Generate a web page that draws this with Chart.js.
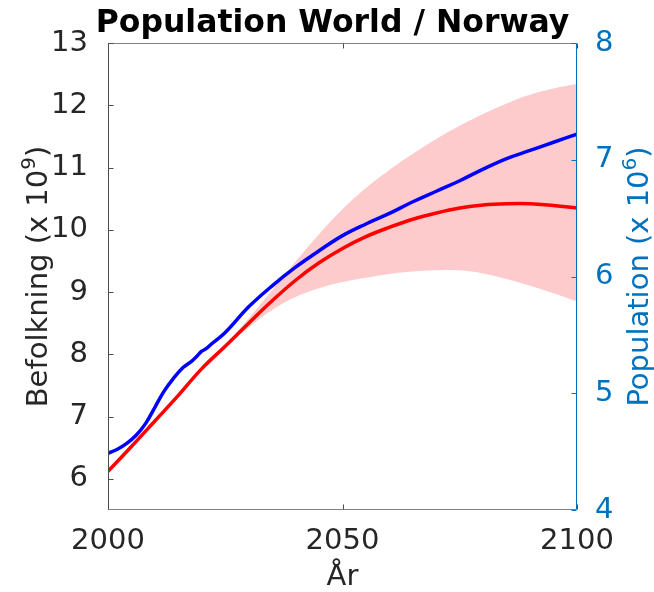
<!DOCTYPE html>
<html>
<head>
<meta charset="utf-8">
<script src="https://cdn.jsdelivr.net/npm/chart.js@4.4.1/dist/chart.umd.min.js"></script>
<style>
  html, body { margin: 0; padding: 0; background: #ffffff; }
  #ramme { width: 654px; height: 592px; }
</style>
</head>
<body>
<div id="ramme"><canvas id="grafikk"></canvas></div>
<script>
// verdens befolkning (milliarder), venstre akse
const aarVerden = [2000, 2005, 2010, 2015, 2020, 2025, 2030, 2035, 2040, 2045, 2050,
                   2055, 2060, 2065, 2070, 2075, 2080, 2085, 2090, 2095, 2100];
const verden = [6.12, 6.52, 6.93, 7.34, 7.77, 8.13, 8.50, 8.86, 9.19, 9.47, 9.70,
                9.89, 10.04, 10.17, 10.27, 10.35, 10.40, 10.42, 10.42, 10.39, 10.35];

// usikkerhetsbånd for verden
const aarBand = [2025, 2030, 2035, 2040, 2045, 2050, 2055, 2060, 2065, 2070,
                 2075, 2080, 2085, 2090, 2095, 2100];
const bandLav = [8.12, 8.43, 8.71, 8.92, 9.06, 9.16, 9.23, 9.29, 9.33, 9.35,
                 9.35, 9.30, 9.21, 9.10, 8.98, 8.85];
const bandHoy = [8.14, 8.58, 9.03, 9.49, 9.93, 10.33, 10.67, 10.96, 11.22, 11.46,
                 11.67, 11.86, 12.03, 12.17, 12.27, 12.34];

// Norges befolkning (millioner), høyre akse
const aarNorge = [2000, 2002, 2004, 2006, 2008, 2010, 2012, 2014, 2016, 2018,
                  2019, 2020, 2021, 2022, 2025, 2030, 2035, 2040, 2045, 2050,
                  2055, 2060, 2065, 2070, 2075, 2080, 2085, 2090, 2095, 2100];
const norge = [4.485, 4.52, 4.57, 4.64, 4.74, 4.88, 5.02, 5.13, 5.22, 5.28,
               5.32, 5.36, 5.385, 5.42, 5.52, 5.74, 5.92, 6.08, 6.22, 6.35,
               6.45, 6.54, 6.64, 6.73, 6.82, 6.92, 7.01, 7.08, 7.15, 7.22];

const xTicks = [2000, 2050, 2100];
const venstreTicks = [6, 7, 8, 9, 10, 11, 12, 13];
const hoyreTicks = [4, 5, 6, 7, 8];

const tekstFarge = '#262626';
const blaaAkse = '#0072BD';
const skrift = '"DejaVu Sans", sans-serif';

function punkter(xs, ys) {
    return xs.map((x, i) => ({ x: x, y: ys[i] }));
}

// rotert aksetittel med hevet eksponent
function aksetittel(ctx, x, y, hoved, sup, slutt, farge) {
    ctx.save();
    ctx.translate(x, y);
    ctx.rotate(-Math.PI / 2);
    ctx.fillStyle = farge;
    ctx.textAlign = 'left';
    ctx.textBaseline = 'alphabetic';
    ctx.font = '29px ' + skrift;
    const w1 = ctx.measureText(hoved).width;
    const w3 = ctx.measureText(slutt).width;
    ctx.font = '20px ' + skrift;
    const w2 = ctx.measureText(sup).width;
    let start = -(w1 + w2 + w3) / 2;
    ctx.font = '29px ' + skrift;
    ctx.fillText(hoved, start, 0);
    ctx.font = '20px ' + skrift;
    ctx.fillText(sup, start + w1, -12);
    ctx.font = '29px ' + skrift;
    ctx.fillText(slutt, start + w1 + w2, 0);
    ctx.restore();
}

const matlabPynt = {
    id: 'matlabPynt',
    afterDraw(chart) {
        const { ctx, chartArea: a, scales } = chart;
        const l = Math.round(a.left) + 0.5, r = Math.round(a.right) - 0.5;
        const t = Math.round(a.top) + 0.5, b = Math.round(a.bottom) - 0.5;
        ctx.save();
        ctx.lineWidth = 1;

        // ramme
        ctx.strokeStyle = '#808080';
        ctx.beginPath();
        ctx.moveTo(l, t); ctx.lineTo(r, t);
        ctx.moveTo(l, b); ctx.lineTo(r, b);
        ctx.stroke();
        ctx.strokeStyle = '#4d4d4d';
        ctx.beginPath();
        ctx.moveTo(l, t); ctx.lineTo(l, b);
        ctx.stroke();
        ctx.strokeStyle = blaaAkse;
        ctx.beginPath();
        ctx.moveTo(r, t); ctx.lineTo(r, b);
        ctx.stroke();

        // tick-merker innover
        ctx.strokeStyle = '#4d4d4d';
        ctx.beginPath();
        venstreTicks.forEach(v => {
            const y = Math.round(scales.y.getPixelForValue(v)) + 0.5;
            ctx.moveTo(l, y); ctx.lineTo(l + 5, y);
        });
        xTicks.forEach(v => {
            const x = Math.round(scales.x.getPixelForValue(v)) + 0.5;
            ctx.moveTo(x, b); ctx.lineTo(x, b - 5);
            ctx.moveTo(x, t); ctx.lineTo(x, t + 5);
        });
        ctx.stroke();
        ctx.strokeStyle = blaaAkse;
        ctx.beginPath();
        hoyreTicks.forEach(v => {
            const y = Math.round(scales.y1.getPixelForValue(v)) + 0.5;
            ctx.moveTo(r, y); ctx.lineTo(r - 5, y);
        });
        ctx.stroke();

        // tittel
        const midtX = (a.left + a.right) / 2;
        const midtY = (a.top + a.bottom) / 2;
        ctx.fillStyle = '#000000';
        ctx.textAlign = 'center';
        ctx.textBaseline = 'alphabetic';
        ctx.font = 'bold 31.5px ' + skrift;
        ctx.fillText('Population World / Norway', midtX - 10, 32);

        // x-aksetittel
        ctx.fillStyle = tekstFarge;
        ctx.font = '29px ' + skrift;
        ctx.fillText('År', midtX, 585);

        aksetittel(ctx, 47, midtY, 'Befolkning (x 10', '9', ')', tekstFarge);
        aksetittel(ctx, 648, midtY, 'Population (x 10', '6', ')', blaaAkse);
        ctx.restore();
    }
};

document.addEventListener('DOMContentLoaded', () => {
    try {
        const ctx = document.getElementById('grafikk').getContext('2d');
        const tickFont = { family: skrift, size: 29 };

        new Chart(ctx, {
            type: 'line',
            data: {
                datasets: [
                    {
                        label: 'bånd lav',
                        data: punkter(aarBand, bandLav),
                        yAxisID: 'y',
                        borderWidth: 0,
                        borderColor: 'rgba(0,0,0,0)',
                        pointRadius: 0,
                        fill: false,
                        tension: 0.4,
                        order: 3
                    },
                    {
                        label: 'bånd høy',
                        data: punkter(aarBand, bandHoy),
                        yAxisID: 'y',
                        borderWidth: 0,
                        borderColor: 'rgba(0,0,0,0)',
                        backgroundColor: '#fdcbcb',
                        pointRadius: 0,
                        fill: '-1',
                        tension: 0.4,
                        order: 2
                    },
                    {
                        label: 'Verden',
                        data: punkter(aarVerden, verden),
                        yAxisID: 'y',
                        borderColor: '#ff0000',
                        borderWidth: 3.5,
                        pointRadius: 0,
                        fill: false,
                        tension: 0.4,
                        order: 1
                    },
                    {
                        label: 'Norge',
                        data: punkter(aarNorge, norge),
                        yAxisID: 'y1',
                        borderColor: '#0000ff',
                        borderWidth: 3.5,
                        pointRadius: 0,
                        fill: false,
                        tension: 0.4,
                        order: 0
                    }
                ]
            },
            options: {
                responsive: true,
                maintainAspectRatio: false,
                animation: false,
                devicePixelRatio: 1,
                layout: { padding: { top: 43, left: 0, right: 0, bottom: 0 } },
                scales: {
                    x: {
                        type: 'linear',
                        position: 'bottom',
                        min: 2000,
                        max: 2100,
                        grid: { display: false },
                        border: { display: false },
                        afterBuildTicks: s => { s.ticks = xTicks.map(v => ({ value: v })); },
                        afterFit: s => { s.height = 82; },
                        ticks: {
                            font: tickFont,
                            color: tekstFarge,
                            padding: 6,
                            maxRotation: 0,
                            callback: v => String(v)
                        }
                    },
                    y: {
                        position: 'left',
                        min: 5.5,
                        max: 13,
                        grid: { display: false },
                        border: { display: false },
                        afterBuildTicks: s => { s.ticks = venstreTicks.map(v => ({ value: v })); },
                        afterFit: s => { s.width = 108; },
                        ticks: {
                            font: tickFont,
                            color: tekstFarge,
                            padding: 12,
                            callback: v => String(v)
                        }
                    },
                    y1: {
                        position: 'right',
                        min: 4,
                        max: 8,
                        grid: { display: false },
                        border: { display: false },
                        afterBuildTicks: s => { s.ticks = hoyreTicks.map(v => ({ value: v })); },
                        afterFit: s => { s.width = 77; },
                        ticks: {
                            font: tickFont,
                            color: blaaAkse,
                            padding: 10,
                            callback: v => String(v)
                        }
                    }
                },
                plugins: {
                    legend: { display: false },
                    tooltip: { enabled: false },
                    title: { display: false }
                }
            },
            plugins: [matlabPynt]
        });
    } catch (e) {
        console.error('Feil ved tegning av grafen:', e);
    }
});
</script>
</body>
</html>
